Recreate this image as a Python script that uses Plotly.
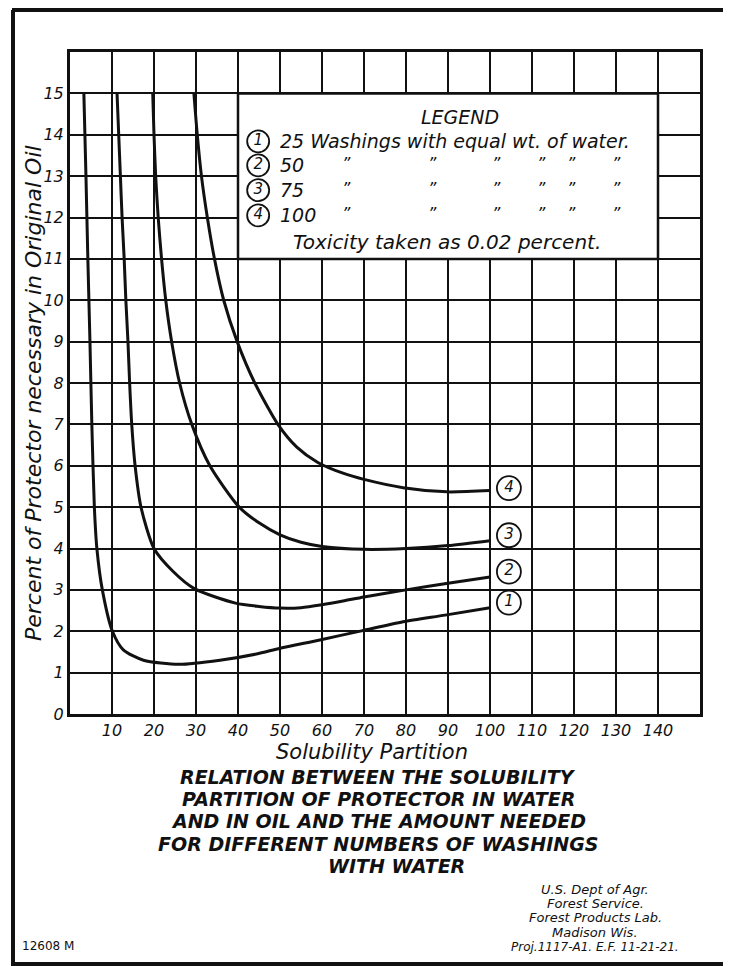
import plotly.graph_objects as go

# ---------------- data ----------------
X_TICKS = [10, 20, 30, 40, 50, 60, 70, 80, 90, 100, 110, 120, 130, 140]
Y_TICKS = list(range(0, 16))

CURVE1_X = [3.3, 3.8, 4.25, 4.75, 5.2, 5.8, 6.4, 7.7, 10.1, 12.7, 17.5, 26, 35.7, 44.4, 50, 59.5, 69.4, 79.3, 89.3, 100]
CURVE1_Y = [15, 13, 11, 9, 7, 5, 4, 3, 2, 1.55, 1.3, 1.2, 1.3, 1.45, 1.59, 1.79, 2.01, 2.23, 2.39, 2.57]

CURVE2_X = [11.2, 11.6, 12.0, 12.4, 12.9, 13.3, 13.8, 14.2, 14.7, 15.5, 16.9, 20.0, 24.5, 29.6, 39.4, 45, 50, 55, 60, 65, 70, 80, 90, 100]
CURVE2_Y = [15, 14, 13, 12, 11, 10, 9, 8, 7, 6, 5, 4, 3.45, 3.03, 2.68, 2.6, 2.56, 2.57, 2.64, 2.73, 2.83, 3.0, 3.16, 3.31]

CURVE3_X = [19.7, 20.0, 20.4, 21.0, 21.8, 22.8, 24.2, 26.1, 29, 33.3, 40.3, 45, 50, 55, 60, 70, 80, 90, 100]
CURVE3_Y = [15, 14, 13, 12, 11, 10, 9, 8, 7, 6, 5, 4.62, 4.33, 4.15, 4.05, 3.98, 4.0, 4.07, 4.19]

CURVE4_X = [29.5, 30.3, 31.3, 32.7, 34.4, 36.6, 39.8, 44, 49.5, 54, 59, 65, 70, 79.3, 89.7, 100]
CURVE4_Y = [15, 14, 13, 12, 11, 10, 9, 8, 7, 6.45, 6.08, 5.82, 5.67, 5.47, 5.37, 5.4]

CURVE_NUMBERS = ["1", "2", "3", "4"]
LABEL_X = [104.5, 104.5, 104.5, 104.5]
LABEL_Y = [2.69, 3.44, 4.32, 5.46]

WASHINGS = ["25", "50", "75", "100"]
LEGEND_ROW_Y = [13.84, 13.26, 12.66, 12.05]
LEGEND_CIRCLE_X = [44.8, 44.8, 44.8, 44.8]
DITTO_X = [65.9, 86.2, 101.6, 112.3, 119.4, 130.2]

LEGEND_BOX = dict(x0=40, x1=140, y0=11, y1=15)

TITLE_LINES = [
    "RELATION BETWEEN THE SOLUBILITY",
    "PARTITION OF PROTECTOR IN WATER",
    "AND IN OIL AND THE AMOUNT NEEDED",
    "FOR DIFFERENT NUMBERS OF WASHINGS",
    "WITH WATER",
]
CREDIT_LINES = [
    "U.S. Dept of Agr.",
    "Forest Service.",
    "Forest Products Lab.",
    "Madison Wis.",
    "Proj.1117-A1. E.F. 11-21-21.",
]

# ---------------- layout helpers (page pixels -> paper) ----------------
# the page body has an 8px margin, so the figure is 8px smaller than the window
W, H = 723, 958
PLOT_L, PLOT_R, PLOT_T, PLOT_B = 70, 700, 52, 714   # page pixels
L, T = PLOT_L - 8, PLOT_T - 8
R = W - (PLOT_R - 8)
B = H - (PLOT_B - 8)
PW, PH = PLOT_R - PLOT_L, PLOT_B - PLOT_T


def px(x):
    return (x - PLOT_L) / PW


def py(y):
    return (PLOT_B - y) / PH


FONT = "DejaVu Sans"
BLACK = "#111111"

fig = go.Figure()

for xs, ys in [(CURVE1_X, CURVE1_Y), (CURVE2_X, CURVE2_Y), (CURVE3_X, CURVE3_Y), (CURVE4_X, CURVE4_Y)]:
    fig.add_trace(go.Scatter(x=xs, y=ys, mode="lines",
                             line=dict(color=BLACK, width=3, shape="spline", smoothing=0.7),
                             hoverinfo="skip", showlegend=False))

# legend box (white, covers the grid, under the traces)
fig.add_shape(type="rect", xref="x", yref="y", **LEGEND_BOX,
              fillcolor="white", line=dict(color=BLACK, width=2.5), layer="between")

# circled numbers at curve ends
fig.add_trace(go.Scatter(x=LABEL_X, y=LABEL_Y, mode="markers+text", text=CURVE_NUMBERS,
                         textposition="middle center",
                         textfont=dict(family=FONT, size=15, color=BLACK, style="italic"),
                         marker=dict(symbol="circle", size=24, color="white",
                                     line=dict(color=BLACK, width=1.8)),
                         hoverinfo="skip", showlegend=False, cliponaxis=False))

# circled numbers in legend box
fig.add_trace(go.Scatter(x=LEGEND_CIRCLE_X, y=LEGEND_ROW_Y, mode="markers+text", text=CURVE_NUMBERS,
                         textposition="middle center",
                         textfont=dict(family=FONT, size=15, color=BLACK, style="italic"),
                         marker=dict(symbol="circle", size=22, color="white",
                                     line=dict(color=BLACK, width=1.8)),
                         hoverinfo="skip", showlegend=False))


def text_ann(x, y, text, size, xref="x", yref="y", xanchor="center", **kw):
    font = dict(family=FONT, size=size, color=BLACK, style="italic")
    font.update(kw.pop("font_extra", {}))
    return dict(x=x, y=y, xref=xref, yref=yref, text=text, showarrow=False,
                xanchor=xanchor, yanchor="middle", font=font, **kw)


ann = []
ann.append(text_ann(92.9, 14.42, "LEGEND", 19))
ann.append(text_ann(49.6, LEGEND_ROW_Y[0], f"{WASHINGS[0]} Washings with equal wt. of water.", 19,
                    xanchor="left"))
for i in range(1, 4):
    ann.append(text_ann(49.6, LEGEND_ROW_Y[i], WASHINGS[i], 19, xanchor="left"))
    for dx in DITTO_X:
        ann.append(text_ann(dx, LEGEND_ROW_Y[i] + 0.05, "\u201d", 16))
ann.append(text_ann(89.7, 11.4, "Toxicity taken as 0.02 percent.", 20))

# axis titles
ann.append(text_ann(px(372), py(752), "Solubility Partition", 21, xref="paper", yref="paper"))
ann.append(text_ann(px(33), py(393), "Percent of Protector necessary in Original Oil", 22,
                    xref="paper", yref="paper", textangle=-90))

# chart title block
for i, line in enumerate(TITLE_LINES):
    ann.append(text_ann(px(378 if i < 4 else 396), py(777 + 22.2 * i), line, 19,
                        xref="paper", yref="paper",
                        font_extra=dict(weight="bold")))

# credits
for i, line in enumerate(CREDIT_LINES):
    ann.append(text_ann(px(595), py(889 + 14.5 * i), line, 13 if i < 4 else 12,
                        xref="paper", yref="paper"))
ann.append(text_ann(px(48), py(946), "12608 M", 12, xref="paper", yref="paper",
                    font_extra=dict(style="normal")))

# outer drawing frame
frame = [
    dict(x0=px(12), x1=px(731), y0=py(10), y1=py(10)),
    dict(x0=px(13), x1=px(13), y0=py(10), y1=py(966)),
    dict(x0=px(12), x1=px(731), y0=py(964), y1=py(964)),
]
for f in frame:
    fig.add_shape(type="line", xref="paper", yref="paper", line=dict(color=BLACK, width=4), **f)

fig.update_layout(
    width=W, height=H,
    margin=dict(l=L, r=R, t=T, b=B),
    paper_bgcolor="white", plot_bgcolor="white",
    annotations=ann, showlegend=False,
    xaxis=dict(range=[0, 150], tickmode="array", tickvals=X_TICKS,
               ticktext=[str(v) for v in X_TICKS],
               showgrid=True, gridcolor=BLACK, gridwidth=1.6, zeroline=False,
               showline=True, mirror=True, linecolor=BLACK, linewidth=3, ticks="",
               tickfont=dict(family=FONT, size=16, color=BLACK, style="italic")),
    yaxis=dict(range=[0, 16], tickmode="array", tickvals=Y_TICKS,
               ticktext=[str(v) for v in Y_TICKS],
               showgrid=True, gridcolor=BLACK, gridwidth=1.6, zeroline=False,
               showline=True, mirror=True, linecolor=BLACK, linewidth=3, ticks="",
               tickfont=dict(family=FONT, size=16, color=BLACK, style="italic")),
)

fig.write_html("out.html")
